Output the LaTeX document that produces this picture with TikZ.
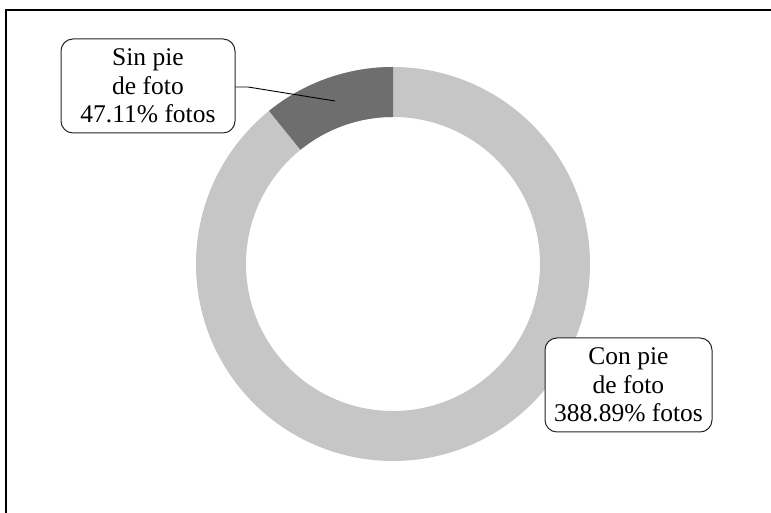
\documentclass[tikz,border=0pt]{standalone}
\usepackage{fontspec}
\setmainfont{Liberation Serif}
\definecolor{ringlight}{HTML}{C6C6C6}
\definecolor{ringdark}{HTML}{6E6E6E}
\begin{document}
\begin{tikzpicture}[x=1pt,y=1pt]
    \tikzstyle{callout}=[draw=black!85, line width=1pt, rounded corners=12pt, fill=white, align=center, inner sep=0pt, font=\fontsize{25.5}{28.5}\selectfont]
    \useasboundingbox (0,0) rectangle (771,513);
    \draw [black, line width=2.5pt] (771,503) -- (6,503) -- (6,0);
    \coordinate (o) at (393,249);
    \fill [ringlight, even odd rule] (o) circle (197) (o) circle (147);
    \fill [ringdark] ([shift={(90:197)}]o) arc [start angle=90, end angle=129, radius=197]
        -- ([shift={(129:147)}]o) arc [start angle=129, end angle=90, radius=147] -- cycle;
    \node [callout, minimum width=174pt, minimum height=94pt] (sin) at (148,427) {Sin pie\\de foto\\47.11\% fotos};
    \node [callout, minimum width=167pt, minimum height=94pt] (con) at (628.5,128) {Con pie\\de foto\\388.89\% fotos};
    \coordinate (bend) at (248,426);
    \coordinate (tip) at (335,412);
    \draw [black, line width=0.9pt] (sin.east |- bend) -- (bend) -- (tip);
\end{tikzpicture}
\end{document}
